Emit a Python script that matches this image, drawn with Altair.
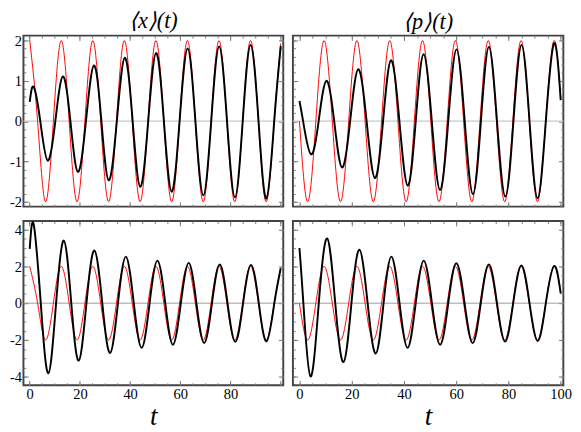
import altair as alt
import pandas as pd

# ---------------- data ----------------
# red reference curves (same time grid for <x> and <p>)
red_t = [0, 3.14, 6.28, 9.42, 12.57, 15.71, 18.85, 21.99, 25.13, 28.27, 31.42,
         34.56, 37.70, 40.84, 43.98, 47.12, 50.27, 53.41, 56.55, 59.69, 62.83,
         65.97, 69.12, 72.26, 75.40, 78.54, 81.68, 84.82, 87.96, 91.11, 94.25,
         97.39, 100]
red_x = [2, 0, -2, 0, 2, 0, -2, 0, 2, 0, -2, 0, 2, 0, -2, 0, 2, 0, -2, 0, 2,
         0, -2, 0, 2, 0, -2, 0, 2, 0, -2, 0, 1.93]
red_p = [0, -2, 0, 2, 0, -2, 0, 2, 0, -2, 0, 2, 0, -2, 0, 2, 0, -2, 0, 2, 0,
         -2, 0, 2, 0, -2, 0, 2, 0, -2, 0, 2, 0.52]

# top-left black <x>(t)
bx_top_t = [0, 1.6, 4.2, 7.15, 10.2, 13.2, 16.2, 19.2, 22.4, 25.6, 28.55, 31.5,
            34.7, 37.9, 41.0, 44.05, 47.2, 50.35, 53.45, 56.55, 59.7, 62.9,
            66.0, 69.15, 72.3, 75.45, 78.6, 81.75, 84.85, 87.98, 91.15, 94.3,
            97.4, 100]
bx_top_v = [0.48, 0.85, 0, -0.98, 0, 1.11, 0, -1.26, 0, 1.38, 0, -1.47, 0,
            1.57, 0, -1.63, 0, 1.69, 0, -1.75, 0, 1.8, 0, -1.84, 0, 1.85, 0,
            -1.89, 0, 1.89, 0, -1.92, 0, 1.86]

# top-right black <p>(t)
bp_top_t = [0, 1.4, 4.4, 7.35, 10.3, 13.3, 16.3, 19.4, 22.5, 25.7, 28.9, 32.0,
            35.06, 38.25, 41.45, 44.5, 47.5, 50.65, 53.8, 56.95, 60.1, 63.25,
            66.4, 69.45, 72.5, 75.6, 78.8, 81.9, 85.0, 88.05, 91.15, 94.3,
            97.45, 100]
bp_top_v = [0.5, 0, -0.82, 0, 1.0, 0, -1.15, 0, 1.29, 0, -1.41, 0, 1.51, 0,
            -1.6, 0, 1.66, 0, -1.71, 0, 1.78, 0, -1.81, 0, 1.84, 0, -1.87, 0,
            1.89, 0, -1.91, 0, 1.93, 0.52]

# bottom-left black <x>(t)
bx_bot_t = [0, 1.6, 4.4, 7.4, 10.5, 13.6, 16.55, 19.5, 22.6, 25.75, 28.9,
            32.0, 35.15, 38.3, 41.45, 44.6, 47.75, 50.9, 54.0, 57.05, 60.2,
            63.35, 66.4, 69.5, 72.6, 75.7, 78.8, 81.9, 85.0, 88.15, 91.25,
            94.35, 97.45, 100]
bx_bot_v = [2.95, 4.26, 0, -3.81, 0, 3.4, 0, -3.12, 0, 2.86, 0, -2.71, 0,
            2.53, 0, -2.43, 0, 2.31, 0, -2.26, 0, 2.19, 0, -2.16, 0, 2.1, 0,
            -2.1, 0, 2.08, 0, -2.07, 0, 1.9]

# bottom-right black <p>(t)
bp_bot_t = [0, 1.5, 4.24, 7.4, 10.6, 13.7, 16.84, 19.9, 22.95, 26.1, 29.2,
            32.2, 35.2, 38.3, 41.4, 44.5, 47.6, 50.7, 53.85, 56.95, 60.05,
            63.2, 66.3, 69.4, 72.5, 75.6, 78.7, 81.8, 84.95, 88.05, 91.2, 94.3,
            97.45, 100]
bp_bot_v = [3.0, 0, -3.98, 0, 3.52, 0, -3.2, 0, 2.91, 0, -2.74, 0, 2.53, 0,
            -2.43, 0, 2.31, 0, -2.26, 0, 2.17, 0, -2.17, 0, 2.1, 0, -2.09, 0,
            2.05, 0, -2.05, 0, 2.02, 0.53]

x_major = [0, 20, 40, 60, 80, 100]
x_minor = list(range(0, 101, 5))
y_major_top = [-2, -1, 0, 1, 2]
y_minor_top = [-2, -1.8, -1.6, -1.4, -1.2, -1, -0.8, -0.6, -0.4, -0.2, 0,
               0.2, 0.4, 0.6, 0.8, 1, 1.2, 1.4, 1.6, 1.8, 2]
y_major_bot = [-4, -2, 0, 2, 4]
y_minor_bot = [-4, -3.5, -3, -2.5, -2, -1.5, -1, -0.5, 0, 0.5, 1, 1.5, 2,
               2.5, 3, 3.5, 4]

FONT = "Liberation Serif"
XDOM = [-2.5, 101]


def axis(orient, values, size, labels=False, title=None, hide100=False):
    kw = dict(orient=orient, values=values, tickSize=size, offset=-size,
              domain=False, grid=False, ticks=True, tickColor="#777",
              tickWidth=1, labels=labels, labelFont=FONT, labelFontSize=15,
              labelColor="black", labelPadding=2, labelFlush=False,
              labelOverlap=False,
              labelExpr=("datum.value == 100 ? '' : '' + datum.value")
              if hide100 else "'' + datum.value")
    if title:
        kw.update(title=title, titleFont=FONT, titleFontSize=28,
                  titleFontStyle="italic", titleFontWeight="normal",
                  titlePadding=2, titleColor="black")
    else:
        kw["title"] = None
    return alt.Axis(**kw)


def panel(rt, rv, bt, bv, ydom, ymaj, ymin, bottom, left, w, h,
          zcol, zw, title=None, hide100=False):
    red = pd.DataFrame({"t": rt, "v": rv})
    blk = pd.DataFrame({"t": bt, "v": bv})
    xs = alt.Scale(domain=XDOM, nice=False, zero=False)
    ys = alt.Scale(domain=ydom, nice=False, zero=False)
    zero = alt.Chart(pd.DataFrame({"v": [0]})).mark_rule(
        color=zcol, strokeWidth=zw).encode(
        y=alt.Y("v:Q", scale=ys, axis=None))
    red_line = alt.Chart(red).mark_line(
        color="#ff0000", strokeWidth=1, interpolate="natural").encode(
        x=alt.X("t:Q", scale=xs,
                axis=axis("bottom", x_major, 5, labels=bottom,
                          title="t" if bottom else None, hide100=hide100)),
        y=alt.Y("v:Q", scale=ys, axis=axis("left", ymaj, 5, labels=left)))
    blk_line = alt.Chart(blk).mark_line(
        color="black", strokeWidth=2, interpolate="natural").encode(
        x=alt.X("t:Q", scale=xs, axis=axis("bottom", x_minor, 2.5)),
        y=alt.Y("v:Q", scale=ys, axis=axis("left", ymin, 2.5)))
    top_major = alt.Chart(red).mark_line(strokeOpacity=0).encode(
        x=alt.X("t:Q", scale=xs, axis=axis("top", x_major, 5)),
        y=alt.Y("v:Q", scale=ys, axis=axis("right", ymaj, 5)))
    top_minor = alt.Chart(red).mark_line(strokeOpacity=0).encode(
        x=alt.X("t:Q", scale=xs, axis=axis("top", x_minor, 2.5)),
        y=alt.Y("v:Q", scale=ys, axis=axis("right", ymin, 2.5)))
    ch = alt.layer(zero, red_line, blk_line, top_major, top_minor).resolve_axis(
        x="independent", y="independent").properties(width=w, height=h)
    if title:
        ch = ch.properties(title=alt.Title(
            title, font=FONT, fontSize=23, fontStyle="italic",
            fontWeight="normal", offset=1, anchor="middle", color="black"))
    return ch


TL = panel(red_t, red_x, bx_top_t, bx_top_v, [-2.12, 2.12], y_major_top,
           y_minor_top, False, True, 269, 177, "#c8c8c8", 1.5,
           title="⟨x⟩(t)")
TR = panel(red_t, red_p, bp_top_t, bp_top_v, [-2.12, 2.12], y_major_top,
           y_minor_top, False, False, 280, 177, "#c8c8c8", 1.5,
           title="⟨p⟩(t)")
BL = panel(red_t, red_x, bx_bot_t, bx_bot_v, [-4.46, 4.46], y_major_bot,
           y_minor_bot, True, True, 269, 170, "#999999", 1, hide100=True)
BR = panel(red_t, red_p, bp_bot_t, bp_bot_v, [-4.46, 4.46], y_major_bot,
           y_minor_bot, True, False, 280, 170, "#999999", 1)

chart = alt.vconcat(
    alt.hconcat(TL, TR, spacing=5),
    alt.hconcat(BL, BR, spacing=5),
    spacing=7,
).properties(padding={"left": 0, "top": -6, "right": 0, "bottom": 0},
             background="white").configure(font=FONT).configure_view(
    stroke="#444444", strokeWidth=2).configure_axis(
    labelFont=FONT, titleFont=FONT).configure_title(font=FONT)

chart.save("out.html", embed_options={"renderer": "svg", "actions": False})
